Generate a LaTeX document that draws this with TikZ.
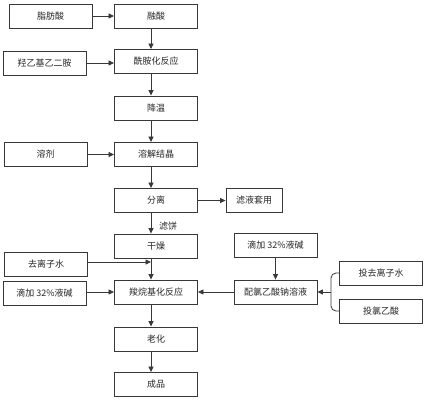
\documentclass[tikz,border=0pt]{standalone}
\usepackage{fontspec}
\setmainfont{Noto Sans CJK SC}
\usetikzlibrary{arrows.meta,calc}
\definecolor{ln}{HTML}{383838}
\begin{document}
\begin{tikzpicture}[x=1pt,y=-1pt,
  box/.style={draw=ln,line width=0.9pt,minimum width=83pt,minimum height=24pt,inner sep=0pt,font=\fontsize{9}{10}\selectfont,text=black!85},
  arr/.style={draw=ln,line width=0.8pt,-{Triangle[length=5.5pt,width=5pt]}},
  ln/.style={draw=ln,line width=0.8pt}]
\useasboundingbox (0,0) rectangle (425,400);
% main column
\node[box] (zf) at (50.5,16) {脂肪酸};
\node[box] (rs) at (156,16) {融酸};
\node[box] (qy) at (44.5,63) {羟乙基乙二胺};
\node[box] (xa) at (156,61.5) {酰胺化反应};
\node[box] (jw) at (156,108) {降温};
\node[box] (rj) at (45.5,154.5) {溶剂};
\node[box] (rjj) at (156,154.5) {溶解结晶};
\node[box] (fl) at (156,200.5) {分离};
\node[box,minimum width=56pt] (ly) at (254,200.5) {滤液套用};
\node[box] (gz) at (156,246) {干燥};
\node[box] (qlz) at (46,264) {去离子水};
\node[box] (dj1) at (44.5,293) {滴加 32\%液碱};
\node[box] (sw) at (156,292) {羧烷基化反应};
\node[box] (lh) at (156,339) {老化};
\node[box] (cp) at (156,384.5) {成品};
\node[box] (dj2) at (275.5,245) {滴加 32\%液碱};
\node[box] (pl) at (275.5,292) {配氯乙酸钠溶液};
\node[box] (tq) at (381,273) {投去离子水};
\node[box] (tl) at (381,311) {投氯乙酸};
\node[font=\fontsize{9}{10}\selectfont,text=black!85] (lb) at (168,226) {滤饼};
\coordinate (xl) at (151,0);
\coordinate (jn) at (151,262);
\coordinate (br) at (331,292);
% connectors
\draw[arr] (zf.east) -- (rs.west);
\draw[arr] (rs.south -| xl) -- (xa.north -| xl);
\draw[arr] (qy.east) -- (qy.east -| xa.west);
\draw[arr] (xa.south -| xl) -- (jw.north -| xl);
\draw[arr] (jw.south -| xl) -- (rjj.north -| xl);
\draw[arr] (rj.east) -- (rjj.west);
\draw[arr] (rjj.south -| xl) -- (fl.north -| xl);
\draw[arr] (fl.east) -- (ly.west);
\draw[arr] (fl.south -| xl) -- (gz.north -| xl);
\draw[arr] (gz.south -| xl) -- (sw.north -| xl);
\draw[arr] (qlz.east |- jn) -- (jn);
\draw[arr] (dj1.east |- sw.west) -- (sw.west);
\draw[arr] (pl.west) -- (sw.east);
\draw[arr] (dj2.south) -- (pl.north);
\draw[arr] (sw.south -| xl) -- (lh.north -| xl);
\draw[arr] (lh.south -| xl) -- (cp.north -| xl);
\draw[ln,rounded corners=5pt] (tq.west) -| (br) |- (tl.west);
\draw[arr] (br) -- (pl.east);
\end{tikzpicture}
\end{document}
